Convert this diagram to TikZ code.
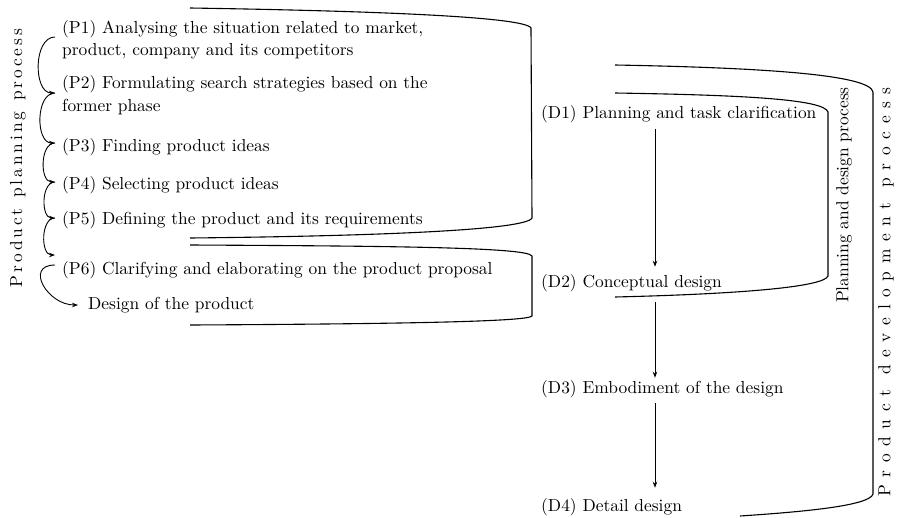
\documentclass[tikz,border=0pt]{standalone}
\usepackage{fontspec}
\setmainfont{lmroman10-regular.otf}
\usetikzlibrary{arrows.meta}
\makeatletter
\newcommand\lsword[2]{\@tfor\lsch:=#2\do{\lsch\hskip#1\relax}\unskip}
\makeatother
\begin{document}
\begin{tikzpicture}[x=1pt,y=-1pt,
  lbl/.style={font=\fontsize{17.4}{21}\selectfont, inner sep=0pt, anchor=base west},
  side/.style={font=\fontsize{17.4}{21}\selectfont, inner sep=0pt, rotate=90},
  brk/.style={line width=1.1pt},
  varr/.style={line width=0.9pt,-{Stealth[length=6pt,width=4.5pt]}},
  curv/.style={line width=0.9pt,-{Stealth[length=6pt,width=4.5pt]}, out=180, in=180}]
\useasboundingbox (0,0) rectangle (897,517);

% left texts
\node[lbl] (p1)  at (62,33)  {(P1) Analysing the situation related to market,};
\node[lbl] (p1b) at (62,55)  {product, company and its competitors};
\node[lbl] (p2)  at (62,88)  {(P2) Formulating search strategies based on the};
\node[lbl] (p2b) at (62,111) {former phase};
\node[lbl] (p3)  at (62,151) {(P3) Finding product ideas};
\node[lbl] (p4)  at (62,189) {(P4) Selecting product ideas};
\node[lbl] (p5)  at (62,224) {(P5) Defining the product and its requirements};
\node[lbl] (p6)  at (62,274) {(P6) Clarifying and elaborating on the product proposal};
\node[lbl] (des) at (88,309) {Design of the product};

% right texts
\node[lbl] (d1) at (541,118) {(D1) Planning and task clarification};
\node[lbl] (d2) at (541,287) {(D2) Conceptual design};
\node[lbl] (d3) at (541,393) {(D3) Embodiment of the design};
\node[lbl] (d4) at (541,511) {(D4) Detail design};

% side labels
\node[side] (lpp) at (18,158) {\lsword{2.9pt}{Product}\hskip10.8pt\lsword{2.9pt}{planning}\hskip10.8pt\lsword{2.9pt}{process}};
\node[side] (lpd) at (844,195) {Planning and design process};
\node[side] (lpdev) at (886,292) {\lsword{7.6pt}{Product}\hskip15.2pt \lsword{7.6pt}{development}\hskip15.2pt \lsword{7.6pt}{process}};

% left curved arrows
\coordinate (c1) at (55,37);
\coordinate (c2) at (55,93);
\coordinate (c3) at (55,143);
\coordinate (c4) at (55,182);
\coordinate (c5) at (55,218);
\coordinate (c6) at (55,255);
\coordinate (c7) at (55,265);
\coordinate (c8) at (78,305);
\draw[curv] (c1) to (c2);
\draw[curv] (c2) to (c3);
\draw[curv] (c3) to (c4);
\draw[curv] (c4) to (c5);
\draw[curv] (c5) to (c6);
\draw[curv, looseness=1.7] (c7) to (c8);

% vertical arrows
\coordinate (ax) at (655,0);
\draw[varr, shorten <=6.5pt, shorten >=7pt] (d1.south -| ax) -- (d2.north -| ax);
\draw[varr, shorten <=10.5pt, shorten >=2pt] (d2.south -| ax) -- (d3.north -| ax);
\draw[varr, shorten <=5.5pt, shorten >=10pt] (d3.south -| ax) -- (d4.north -| ax);

% brackets
\draw[brk] (190,8) .. controls (380,11) and (525,17) .. (531,28) -- (532,218)
  .. controls (526,230) and (380,236) .. (190,238);
\draw[brk] (190,245) .. controls (380,246) and (528,247) .. (532,256) -- (532,316)
  .. controls (528,322) and (380,324) .. (190,325);
\draw[brk] (615,93) .. controls (740,95) and (824,99) .. (828,112) -- (828,276)
  .. controls (824,287) and (740,294) .. (615,297);
\draw[brk] (615,65) .. controls (780,68) and (870,76) .. (873,92) -- (873,494)
  .. controls (870,506) and (800,512) .. (740,516);
\end{tikzpicture}
\end{document}
